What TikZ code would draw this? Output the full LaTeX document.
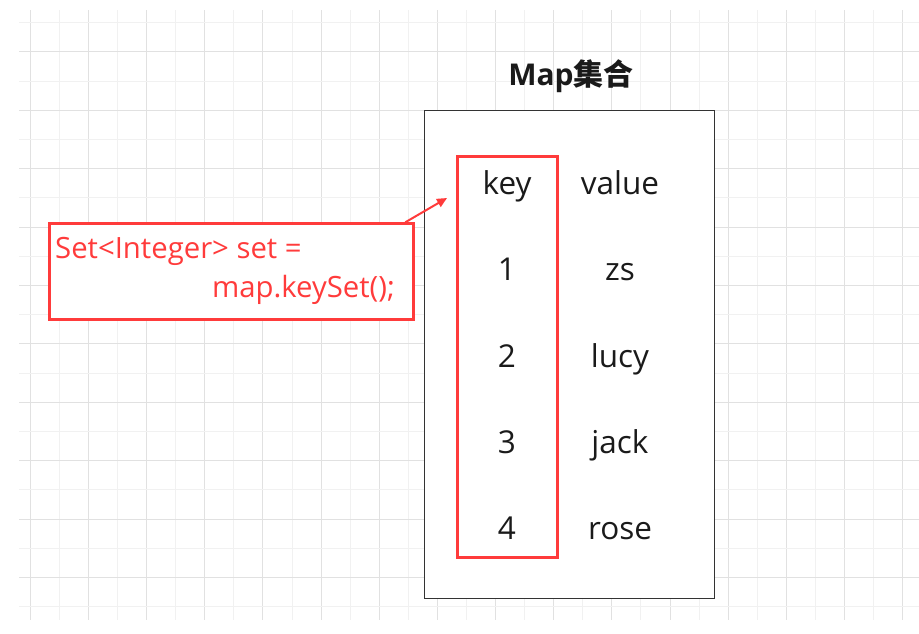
\documentclass[tikz,border=0pt]{standalone}
\usepackage{fontspec}
\setmainfont{Open Sans}
\newfontfamily\cjkbold{Noto Sans CJK SC Bold}
\usetikzlibrary{calc,arrows.meta}
\definecolor{redc}{HTML}{FF3B3B}
\definecolor{gridminor}{HTML}{F1F1F1}
\definecolor{gridmajor}{HTML}{E1E1E1}
\definecolor{boxc}{HTML}{333333}
\definecolor{txt}{HTML}{1A1A1A}
\tikzset{
  cell/.style={font=\fontsize{31.5}{36}\selectfont, text=txt, anchor=base, inner sep=0pt},
  codetxt/.style={font=\fontsize{29.3}{34}\selectfont, text=redc, inner sep=0pt, anchor=base west},
  redbox/.style={draw=redc, line width=3pt},
}
\begin{document}
\begin{tikzpicture}[x=1pt,y=-1pt]
\useasboundingbox (0,0) rectangle (919,634);
% grid
\foreach \k in {0,...,30}{
  \pgfmathsetmacro{\xx}{30.3+29.08*\k}
  \pgfmathtruncatemacro{\ev}{mod(\k,2)}
  \ifnum\ev=0
    \draw[gridmajor, line width=1pt] (\xx,10) -- (\xx,620);
  \else
    \draw[gridminor, line width=1pt] (\xx,10) -- (\xx,620);
  \fi
}
\foreach \j in {0,...,20}{
  \pgfmathsetmacro{\yy}{22.7+29.2*\j}
  \pgfmathtruncatemacro{\ev}{mod(\j,2)}
  \ifnum\ev=1
    \draw[gridmajor, line width=1pt] (19,\yy) -- (919,\yy);
  \else
    \draw[gridminor, line width=1pt] (19,\yy) -- (919,\yy);
  \fi
}
% map box
\node[draw=boxc, fill=white, line width=1pt, minimum width=289.7pt, minimum height=488pt, inner sep=0pt, anchor=north west] (mapbox) at (424.3,110.3) {};
\node[font=\fontsize{30}{34}\selectfont\bfseries, text=txt, anchor=base, inner sep=0pt] (title) at (571,85) {Map{\cjkbold 集合}};
% key box
\node[redbox, minimum width=99.7pt, minimum height=401pt, inner sep=0pt, anchor=north west] (keybox) at (456,155) {};
% cells
\node[cell] (k0) at (507,194) {key};
\node[cell] (v0) at (620,194) {value};
\node[cell] (k1) at (507,280.5) {1};
\node[cell] (v1) at (620,280.5) {zs};
\node[cell] (k2) at (507,367) {2};
\node[cell] (v2) at (620,367) {lucy};
\node[cell] (k3) at (507,453) {3};
\node[cell] (v3) at (620,453) {jack};
\node[cell] (k4) at (507,539) {4};
\node[cell] (v4) at (620,539) {rose};
% code box
\node[redbox, fill=white, minimum width=364pt, minimum height=96pt, inner sep=0pt, anchor=north west] (code) at (48.3,222.3) {};
\node[codetxt] (c1) at (55,258) {Set<Integer> set =};
\node[codetxt, anchor=base east] (c2) at (395,297) {map.keySet();};
% arrow
\coordinate (astart) at ($(code.north east)+(-10,0)$);
\coordinate (aend) at ($(keybox.north west)+(-9,43)$);
\draw[redc, line width=2pt, -{Triangle[length=10pt,width=9pt]}] (astart) -- (aend);
\end{tikzpicture}
\end{document}
